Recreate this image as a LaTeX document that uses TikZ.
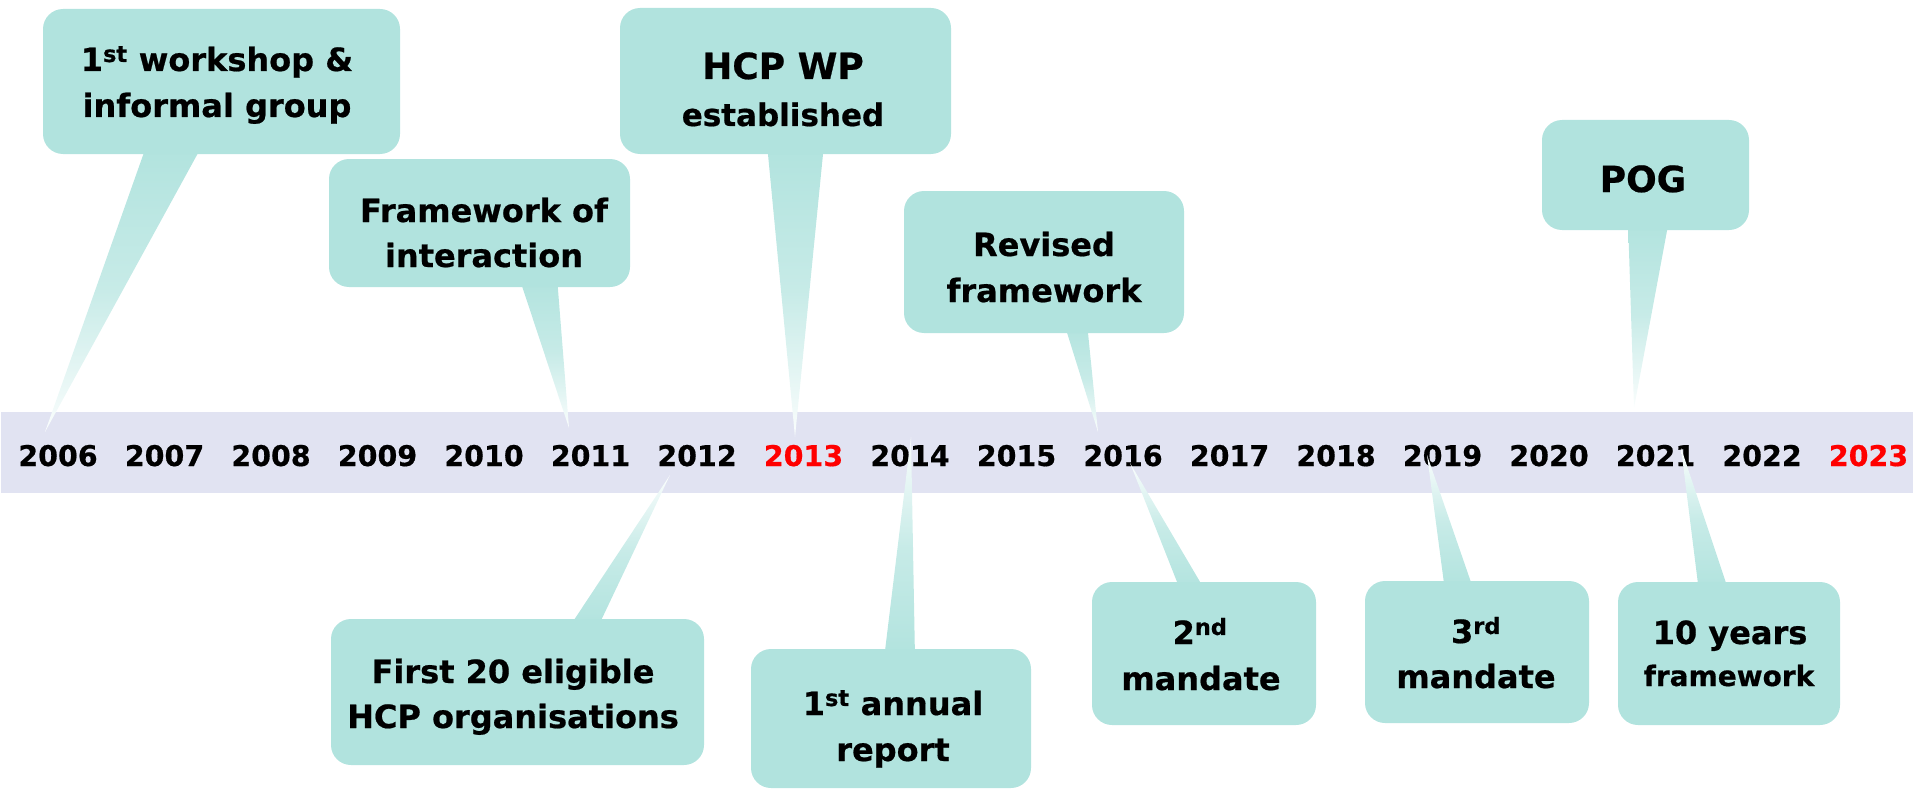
\documentclass[tikz,border=0pt]{standalone}
\usepackage{fontspec}
\setmainfont{DejaVu Sans}[BoldFeatures={FakeBold=0.6}]
\definecolor{boxcol}{HTML}{B1E3DE}
\definecolor{bandcol}{HTML}{E1E3F2}
\definecolor{yred}{HTML}{FF0000}
\tikzset{
  evbox/.style={fill=boxcol, draw=none, rounded corners=20pt, inner sep=0pt},
  txt/.style={anchor=base, inner sep=0pt, font=\fontsize{32}{46}\selectfont\bfseries},
  txtbig/.style={anchor=base, inner sep=0pt, font=\fontsize{36}{46}\selectfont\bfseries},
  txtmid/.style={anchor=base, inner sep=0pt, font=\fontsize{31}{46}\selectfont\bfseries},
  txtsmall/.style={anchor=base, inner sep=0pt, font=\fontsize{28}{46}\selectfont\bfseries},
  yr/.style={anchor=base, inner sep=0pt, font=\fontsize{28.5}{34}\selectfont\bfseries},
  tailup/.style={draw=none, top color=boxcol, bottom color=boxcol!6!white, middle color=boxcol!72!white},
  taildown/.style={draw=none, bottom color=boxcol, top color=boxcol!6!white, middle color=boxcol!72!white},
}
\begin{document}
\begin{tikzpicture}[x=1pt, y=-1pt]
\useasboundingbox (0,0) rectangle (1913,789);
% band
\node[fill=bandcol, draw=none, inner sep=0pt, minimum width=1912pt, minimum height=81pt] (band) at (957,452.5) {};
% years
\foreach \i/\yy in {0/2006,1/2007,2/2008,3/2009,4/2010,5/2011,6/2012,8/2014,9/2015,10/2016,11/2017,12/2018,13/2019,14/2020,15/2021,16/2022}{
  \node[yr] (y\yy) at ({58+106.5*\i},466) {\yy};
}
\node[yr, text=yred] (y2013) at ({58+106.5*7},466) {2013};
\node[yr, text=yred] (y2023) at ({58+106.5*17},466) {2023};
% tail tips
\coordinate (p1) at (45,432);
\coordinate (p2) at (569,428);
\coordinate (p3) at (795,437);
\coordinate (p4) at (1098,432);
\coordinate (p5) at (1634,408);
\coordinate (p6) at (670,475);
\coordinate (p7) at (911,437);
\coordinate (p8) at (1130,463);
\coordinate (p9) at (1427,455);
\coordinate (p10) at (1681,448);
% tails (upper boxes)
\shade[tailup] (147,144) -- (203,144) -- (p1) -- cycle;
\shade[tailup] (519,277) -- (557,277) -- (p2) -- cycle;
\shade[tailup] (767,144) -- (824,144) -- (p3) -- cycle;
\shade[tailup] (1064,323) -- (1087,323) -- (p4) -- cycle;
\shade[tailup] (1628,220) -- (1669,220) -- (p5) -- cycle;
% tails (lower boxes)
\shade[taildown] (568,629) -- (597,629) -- (p6) -- cycle;
\shade[taildown] (884,659) -- (915,659) -- (p7) -- cycle;
\shade[taildown] (1181,592) -- (1206,592) -- (p8) -- cycle;
\shade[taildown] (1445,591) -- (1474,591) -- (p9) -- cycle;
\shade[taildown] (1699,592) -- (1729,592) -- (p10) -- cycle;
% boxes
\node[evbox, minimum width=357pt, minimum height=145pt] (b1) at (221.5,81.5) {};
\node[evbox, minimum width=301pt, minimum height=128pt] (b2) at (479.5,223) {};
\node[evbox, minimum width=331pt, minimum height=146pt] (b3) at (785.5,81) {};
\node[evbox, minimum width=280pt, minimum height=142pt] (b4) at (1044,262) {};
\node[evbox, minimum width=207pt, minimum height=110pt] (b5) at (1645.5,175) {};
\node[evbox, minimum width=373pt, minimum height=146pt] (b6) at (517.5,692) {};
\node[evbox, minimum width=280pt, minimum height=139pt] (b7) at (891,718.5) {};
\node[evbox, minimum width=224pt, minimum height=143pt] (b8) at (1204,653.5) {};
\node[evbox, minimum width=224pt, minimum height=142pt] (b9) at (1477,652) {};
\node[evbox, minimum width=222pt, minimum height=143pt] (b10) at (1729,653.5) {};
% texts
\node[txt] (b1a) at (217,71) {1\textsuperscript{st} workshop \&};
\node[txt] (b1b) at (217,117) {informal group};
\node[txt] (b2a) at (484,222) {Framework of};
\node[txt] (b2b) at (484,267) {interaction};
\node[txtbig] (b3a) at (783,79) {HCP WP};
\node[txtmid] (b3b) at (783,126) {established};
\node[txt] (b4a) at (1044,256) {Revised};
\node[txt] (b4b) at (1044,302) {framework};
\node[txtbig] (b5a) at (1643,192) {POG};
\node[txt] (b6a) at (513,683) {First 20 eligible};
\node[txt] (b6b) at (513,728) {HCP organisations};
\node[txt] (b7a) at (893,715) {1\textsuperscript{st} annual};
\node[txt] (b7b) at (893,761) {report};
\node[txt] (b8a) at (1200,644) {2\textsuperscript{nd}};
\node[txt] (b8b) at (1201,690) {mandate};
\node[txt] (b9a) at (1476,643) {3\textsuperscript{rd}};
\node[txt] (b9b) at (1476,688) {mandate};
\node[txt] (b10a) at (1730,644) {10 years};
\node[txtsmall] (b10b) at (1729,686) {framework};
\end{tikzpicture}
\end{document}
